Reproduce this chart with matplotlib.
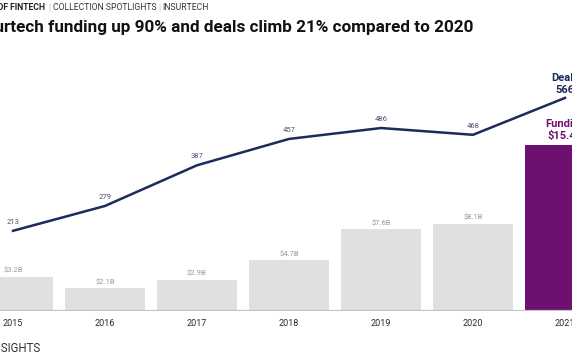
import numpy as np
import matplotlib.pyplot as plt

years = ["2015", "2016", "2017", "2018", "2019", "2020", "2021"]
funding = [3.2, 2.1, 2.9, 4.7, 7.6, 8.1, 15.4]
deals = [213, 279, 387, 457, 486, 468, 566]
funding_labels = ["$3.2B", "$2.1B", "$2.9B", "$4.7B", "$7.6B", "$8.1B"]

W, H = 572, 364
plt.rcParams['font.family'] = ['Roboto', 'DejaVu Sans']

fig = plt.figure(figsize=(W / 100, H / 100), dpi=100)

# axes wider than the figure: the reference is a crop of a bigger chart
left_px, right_px = -33, 611
base_px = 311
ax = fig.add_axes([left_px / W, (H - base_px) / H, (right_px - left_px) / W, base_px / H])
ax.set_xlim(-0.5, 6.5)
ax.set_ylim(0, base_px / 10.75)

x = np.arange(len(years))
colors = ["#e0e0e0"] * 6 + ["#6e106f"]
ax.bar(x, funding, width=0.87, color=colors, zorder=2)
ax.axhline(0, color="#c4c4c4", lw=1.6, zorder=3)

for i, lab in enumerate(funding_labels):
    ax.annotate(lab, (x[i], funding[i]), xytext=(0, 3), textcoords="offset points",
                ha="center", va="baseline", fontsize=5.5, color="#9a9a9a")
ax.annotate("Funding\n$15.4B", (x[6], funding[6]), xytext=(0, 4.5), textcoords="offset points",
            ha="center", va="baseline", fontsize=8, fontweight="bold", color="#6e106f",
            linespacing=1.25)

ax2 = ax.twinx()
ax2.set_ylim(0, base_px / 0.3765)
ax2.plot(x, deals, color="#1c2a5c", lw=1.8, zorder=4)
for i in range(6):
    ax2.annotate(str(deals[i]), (x[i], deals[i]), xytext=(0, 5), textcoords="offset points",
                 ha="center", va="baseline", fontsize=5.5, color="#4a5375")
ax2.annotate("Deals\n566", (x[6], deals[6]), xytext=(0, 3.8), textcoords="offset points",
             ha="center", va="baseline", fontsize=8, fontweight="bold", color="#1c2a5c",
             linespacing=1.25)

ax.set_xticks(x, years)
ax.tick_params(axis="x", length=0, pad=5.5, labelsize=6.5, labelcolor="#2a2a2a")
ax.set_yticks([])
ax2.set_yticks([])
for a in (ax, ax2):
    for s in a.spines.values():
        s.set_visible(False)

# header text
fig.text(473 / W, (H - 32) / H, "Insurtech funding up 90% and deals climb 21% compared to 2020",
         ha="right", va="baseline", fontsize=12.3, fontweight="bold", color="#111111")
sub_y = (H - 10.5) / H
fig.text(45 / W, sub_y, "STATE OF FINTECH", ha="right", va="baseline",
         fontsize=6.2, fontweight="bold", color="#222222")
fig.text(48 / W, sub_y, "|", ha="left", va="baseline", fontsize=6.2, color="#bbbbbb")
fig.text(53 / W, sub_y, "COLLECTION SPOTLIGHTS", ha="left", va="baseline",
         fontsize=6.2, color="#333333")
fig.text(158 / W, sub_y, "|", ha="left", va="baseline", fontsize=6.2, color="#bbbbbb")
fig.text(162 / W, sub_y, "INSURTECH", ha="left", va="baseline",
         fontsize=6.2, color="#333333")

fig.text(40 / W, (H - 352.5) / H, "CB INSIGHTS", ha="right", va="baseline",
         fontsize=8.3, color="#333333")

fig.savefig("out.png", dpi=100)
